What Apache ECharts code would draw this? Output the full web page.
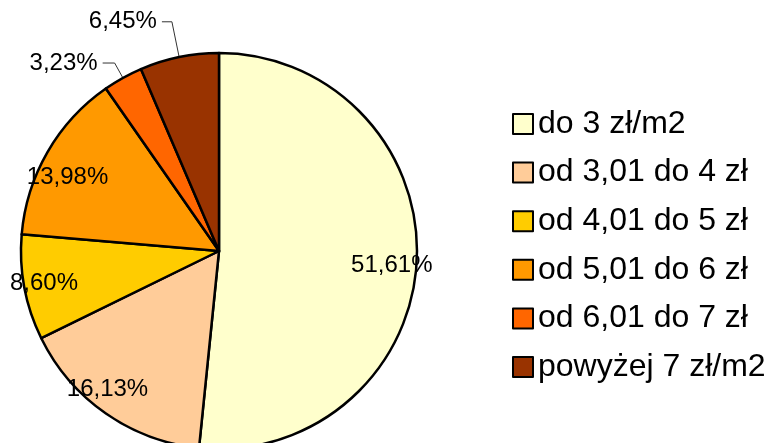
<!DOCTYPE html>
<html>
<head>
<meta charset="utf-8">
<script src="https://cdn.jsdelivr.net/npm/echarts@6/dist/echarts.min.js"></script>
<style>
  html, body { margin: 0; padding: 0; background: #fff; }
  #chart { width: 770px; height: 443px; }
</style>
</head>
<body>
<div id="chart"></div>
<script>
// Price bands (zł per m2) and their share of offers, in percent
const categories = ['do 3 zł/m2', 'od 3,01 do 4 zł', 'od 4,01 do 5 zł', 'od 5,01 do 6 zł', 'od 6,01 do 7 zł', 'powyżej 7 zł/m2'];
const shares = [51.61, 16.13, 8.60, 13.98, 3.23, 6.45];
const colors = ['#FFFFCC', '#FFCC99', '#FFCC00', '#FF9900', '#FF6600', '#993300'];

const FONT = '"Liberation Sans", Arial, sans-serif';
const CENTER = [219, 251];
const R = 198;
const fmt = v => v.toFixed(2).replace('.', ',') + '%';

// Small slices get their label outside with a leader line
const outsideLine = { 4: { length: 17, length2: 12 }, 5: { length: 36, length2: 10 } };
// Fine nudges for the in-slice labels
const innerNudge = { 0: [-3, 5], 1: [-11, -6], 2: [-2, 0], 3: [1, 14] };

const mainData = shares.map((v, i) => {
  const item = { name: categories[i], value: v, itemStyle: { color: colors[i] } };
  if (outsideLine[i]) {
    item.label = { show: true, position: 'outside' };
    item.labelLine = { show: true, length: outsideLine[i].length, length2: outsideLine[i].length2 };
  } else {
    item.label = { show: false };
    item.labelLine = { show: false };
  }
  return item;
});

// Invisible twin pie used only to place the in-slice labels further out than mid-radius
const innerLabelData = shares.map((v, i) => ({
  name: categories[i],
  value: v,
  label: innerNudge[i] ? { show: true, offset: innerNudge[i] } : { show: false }
}));

const chart = echarts.init(document.getElementById('chart'), null, { renderer: 'canvas' });
chart.setOption({
  backgroundColor: '#ffffff',
  animation: false,
  legend: {
    orient: 'vertical',
    left: 507,
    top: 103,
    icon: 'rect',
    itemWidth: 20,
    itemHeight: 20,
    itemGap: 16.6,
    selectedMode: false,
    data: categories,
    textStyle: { fontFamily: FONT, fontSize: 32, color: '#000' }
  },
  series: [
    {
      type: 'pie',
      center: CENTER,
      radius: [0, R],
      startAngle: 90,
      clockwise: true,
      avoidLabelOverlap: false,
      silent: true,
      itemStyle: { borderColor: '#000', borderWidth: 2.5 },
      label: {
        fontFamily: FONT, fontSize: 24, color: '#000',
        formatter: p => fmt(p.value),
        distanceToLabelLine: 5
      },
      labelLine: { lineStyle: { color: '#333', width: 1 } },
      emphasis: { disabled: true },
      data: mainData
    },
    {
      type: 'pie',
      center: CENTER,
      radius: [0, 346],
      startAngle: 90,
      clockwise: true,
      avoidLabelOverlap: false,
      silent: true,
      legendHoverLink: false,
      itemStyle: { color: 'rgba(0,0,0,0)', borderWidth: 0 },
      label: {
        position: 'inner',
        fontFamily: FONT, fontSize: 24, color: '#000',
        formatter: p => fmt(p.value)
      },
      labelLine: { show: false },
      emphasis: { disabled: true },
      data: innerLabelData
    }
  ]
});
</script>
</body>
</html>
